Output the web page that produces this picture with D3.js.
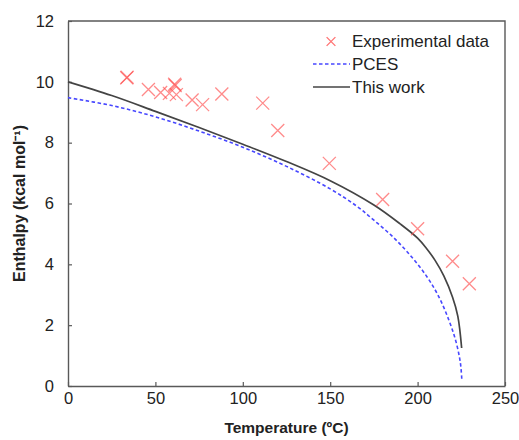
<!DOCTYPE html>
<html>
<head>
<meta charset="utf-8">
<script src="https://cdn.jsdelivr.net/npm/d3@7"></script>
<style>
  body { margin: 0; background: #fff; }
  text { font-family: "Liberation Sans", Arial, sans-serif; fill: #222; }
</style>
</head>
<body>
<div id="chart"></div>
<script>
const width = 519,
  height = 440,
  margin = { top: 21, right: 14, bottom: 54, left: 68 }

// experimental points (temperature in C, enthalpy in kcal/mol)
const expTemp = [33.6, 33.8, 46, 53, 58, 61, 61.3, 62, 71, 77, 88, 111.4, 120, 149.5, 180, 200, 220, 229.6]
const expH = [10.13, 10.15, 9.75, 9.65, 9.62, 9.92, 9.88, 9.58, 9.40, 9.25, 9.60, 9.30, 8.40, 7.32, 6.13, 5.17, 4.10, 3.36]

// PCES curve
const pcesTemp = [0, 25, 50, 75, 100, 125, 150, 165, 175, 185, 195, 205, 212, 218, 222, 224.5, 225.3]
const pcesH = [9.48, 9.22, 8.85, 8.38, 7.85, 7.22, 6.48, 5.92, 5.45, 4.95, 4.35, 3.62, 2.95, 2.15, 1.45, 0.75, 0.2]

// this work curve
const workTemp = [0, 25, 50, 75, 100, 125, 150, 175, 190, 200, 205, 210, 215, 220, 223, 225.2]
const workH = [10.0, 9.55, 9.03, 8.50, 7.95, 7.38, 6.75, 5.95, 5.33, 4.86, 4.53, 4.13, 3.62, 2.92, 2.30, 1.25]

const xTicks = [0, 50, 100, 150, 200, 250]
const yTicks = [0, 2, 4, 6, 8, 10, 12]

const axisColor = "#595959"
const crossColor = "#ff4d4d"

const svg = d3.select("#chart")
  .append("svg")
  .attr("width", width)
  .attr("height", height)

const x = d3.scaleLinear().domain([0, 250]).range([margin.left, width - margin.right])
const y = d3.scaleLinear().domain([0, 12]).range([height - margin.bottom, margin.top])

// frame (top + right)
svg.append("path")
  .attr("d", `M${x(0)},${y(12)}H${x(250)}V${y(0)}`)
  .attr("fill", "none")
  .attr("stroke", axisColor)
  .attr("stroke-width", 1.4)

const xAxis = svg.append("g")
  .attr("transform", `translate(0,${y(0)})`)
  .call(d3.axisBottom(x).tickValues(xTicks).tickSizeInner(-4).tickSizeOuter(0).tickPadding(6))

const yAxis = svg.append("g")
  .attr("transform", `translate(${x(0)},0)`)
  .call(d3.axisLeft(y).tickValues(yTicks).tickSizeInner(-4).tickSizeOuter(0).tickPadding(14))

;[xAxis, yAxis].forEach(a => {
  a.select(".domain").attr("stroke", axisColor).attr("stroke-width", 1.4)
  a.selectAll(".tick line").attr("stroke", axisColor).attr("stroke-width", 1.2)
  a.selectAll(".tick text")
    .style("font-family", '"Liberation Sans", Arial, sans-serif')
    .style("font-size", "16.5px")
    .attr("fill", "#222")
})

// curves
const line = d3.line()
  .x(d => x(d[0]))
  .y(d => y(d[1]))
  .curve(d3.curveCatmullRom.alpha(0.5))

svg.append("path")
  .datum(pcesTemp.map((t, i) => [t, pcesH[i]]))
  .attr("d", line)
  .attr("fill", "none")
  .attr("stroke", "#4747ff")
  .attr("stroke-width", 1.6)
  .attr("stroke-dasharray", "3.5,2.5")

svg.append("path")
  .datum(workTemp.map((t, i) => [t, workH[i]]))
  .attr("d", line)
  .attr("fill", "none")
  .attr("stroke", "#444")
  .attr("stroke-width", 1.7)

// experimental crosses
const cross = d3.symbol().type(d3.symbolX).size(112)

svg.append("g")
  .selectAll("path")
  .data(expTemp.map((t, i) => [t, expH[i]]))
  .join("path")
  .attr("d", cross)
  .attr("transform", d => `translate(${x(d[0])},${y(d[1])})`)
  .attr("fill", "none")
  .attr("stroke", crossColor)
  .attr("stroke-opacity", 0.65)
  .attr("stroke-width", 1.3)

// legend
const legend = svg.append("g")
  .style("font-size", "17px")

legend.append("path")
  .attr("d", d3.symbol().type(d3.symbolX).size(52)())
  .attr("transform", "translate(331,41.5)")
  .attr("fill", "none")
  .attr("stroke", crossColor)
  .attr("stroke-opacity", 0.8)
  .attr("stroke-width", 1.3)

legend.append("line")
  .attr("x1", 313).attr("x2", 350).attr("y1", 64).attr("y2", 64)
  .attr("stroke", "#4747ff")
  .attr("stroke-width", 1.6)
  .attr("stroke-dasharray", "3.5,2.5")

legend.append("line")
  .attr("x1", 313).attr("x2", 350).attr("y1", 87).attr("y2", 87)
  .attr("stroke", "#444")
  .attr("stroke-width", 1.7)

const legendLabels = ["Experimental data", "PCES", "This work"]
legend.selectAll("text.lab")
  .data(legendLabels)
  .join("text")
  .attr("class", "lab")
  .attr("x", 352)
  .attr("y", (d, i) => 47 + i * 23)
  .text(d => d)

// axis titles
svg.append("text")
  .attr("x", (x(0) + x(250)) / 2)
  .attr("y", 433)
  .attr("text-anchor", "middle")
  .style("font-size", "15.5px")
  .style("font-weight", "bold")
  .text("Temperature (ºC)")

svg.append("text")
  .attr("transform", `translate(25,${(y(0) + y(12)) / 2}) rotate(-90)`)
  .attr("text-anchor", "middle")
  .style("font-size", "16px")
  .style("font-weight", "bold")
  .text("Enthalpy (kcal mol⁻¹)")
</script>
</body>
</html>
